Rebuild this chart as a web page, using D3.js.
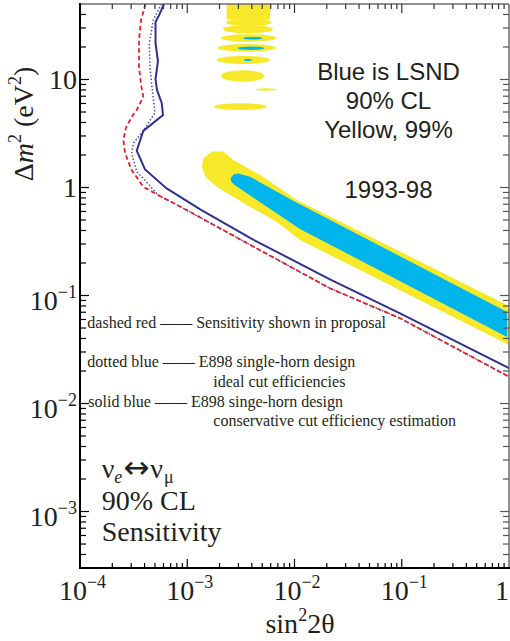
<!DOCTYPE html>
<html><head><meta charset="utf-8">
<script src="https://cdnjs.cloudflare.com/ajax/libs/d3/7.8.5/d3.min.js"></script>
<style>body{margin:0;background:#fff}</style>
</head><body>
<svg id="c" width="510" height="641"></svg>
<script>
// ---------- data ----------
const xTickValues = [1e-4, 1e-3, 1e-2, 1e-1, 1];
const xTickBase = ["10", "10", "10", "10", "1"];
const xTickExp = ["−4", "−3", "−2", "−1", ""];
const yTickValues = [1e-3, 1e-2, 1e-1, 1, 10];
const yTickBase = ["10", "10", "10", "1", "10"];
const yTickExp = ["−3", "−2", "−1", "", ""];

// E898 sensitivity curves (sin^2 2theta, dm^2)
const solidX = [6.07e-4, 5.48e-4, 5.06e-4, 5.06e-4, 5.33e-4, 5.06e-4, 5.22e-4, 5.78e-4, 5.94e-4, 3.89e-4, 3.38e-4, 4.04e-4, 6.43e-4, 1.32e-3, 3.85e-3, 2.14e-2, 9.64e-2, 1];
const solidY = [50, 39.6, 34.1, 21.8, 14.8, 10.1, 8.0, 6.06, 4.69, 3.34, 2.19, 1.47, 0.98, 0.628, 0.341, 0.141, 0.0684, 0.0213];
const dottedX = [5.75e-4, 4.82e-4, 4.43e-4, 4.49e-4, 4.69e-4, 5.0e-4, 3.89e-4, 3.14e-4, 3.03e-4, 3.38e-4, 4.04e-4, 5.33e-4, 8.75e-4, 3.85e-3, 2.14e-2, 9.64e-2, 1];
const dottedY = [50, 35.6, 21.8, 13.1, 8.52, 4.9, 3.34, 2.57, 2.07, 1.40, 1.17, 0.852, 0.66, 0.295, 0.1166, 0.0616, 0.0177];
const dashedX = [4.08e-4, 3.71e-4, 3.55e-4, 3.55e-4, 3.71e-4, 3.89e-4, 3.38e-4, 3.03e-4, 2.68e-4, 2.54e-4, 2.63e-4, 3.03e-4, 3.89e-4, 5.33e-4, 8.75e-4, 3.85e-3, 2.14e-2, 9.64e-2, 1];
const dashedY = [50, 35.6, 23.2, 13.1, 8.9, 6.93, 5.22, 4.5, 3.56, 2.75, 2.09, 1.45, 1.017, 0.852, 0.66, 0.295, 0.1166, 0.0616, 0.0177];

// LSND allowed regions: main band outlines
const yellowBandX = [1.41e-3, 1.69e-3, 2.17e-3, 2.69e-3, 4.76e-3, 1.05e-2, 1, 1, 1.125e-2, 6.83e-3, 3.58e-3, 1.88e-3, 1.47e-3, 1.37e-3];
const yellowBandY = [1.86, 2.15, 2.15, 1.80, 1.31, 0.766, 0.080, 0.0348, 0.327, 0.482, 0.689, 1.017, 1.26, 1.56];
const blueBandX = [2.54e-3, 2.70e-3, 2.99e-3, 3.85e-3, 9.42e-3, 0.96, 0.96, 1.125e-2, 4.45e-3, 2.79e-3, 2.57e-3];
const blueBandY = [1.22, 1.32, 1.35, 1.26, 0.766, 0.0705, 0.0413, 0.413, 0.766, 1.05, 1.13];

// LSND high-dm^2 islands: [x-low, x-high, dm2-high, dm2-low]
const yellowBlockX = [2.33e-3, 5.92e-3];
const yellowBlockY = [35.9, 50];
const yellowIslandX1 = [2.30e-3, 2.15e-3, 2.07e-3, 1.91e-3, 1.88e-3, 2.07e-3, 4.28e-3, 1.77e-3];
const yellowIslandX2 = [6.13e-3, 6.31e-3, 6.73e-3, 6.73e-3, 5.92e-3, 5.20e-3, 6.87e-3, 5.51e-3];
const yellowIslandYHi = [36.5, 32.0, 26.2, 21.3, 16.5, 12.2, 8.29, 6.02];
const yellowIslandYLo = [31.3, 26.8, 22.4, 18.1, 13.9, 9.55, 7.87, 5.22];
const blueIslandX1 = [3.31e-3, 2.97e-3, 3.38e-3];
const blueIslandX2 = [5.05e-3, 5.20e-3, 3.99e-3];
const blueIslandYHi = [24.8, 20.2, 15.5];
const blueIslandYLo = [23.4, 18.8, 14.8];

const lsndText = ["Blue is LSND", "90% CL", "Yellow, 99%", "", "1993-98"];
const noteText = ["dashed red —— Sensitivity shown in proposal", "dotted blue —— E898 single-horn design", "ideal cut efficiencies", "solid blue —— E898 singe-horn design", "conservative cut efficiency estimation"];

// ---------- drawing ----------
const svg = d3.select("#c");
const L = 80, R = 509, T = 4, B = 568;
const x = d3.scaleLog().domain([1e-4, 1]).range([L, R]);
const y = d3.scaleLog().domain([3e-4, 50]).range([B, T]);
const TXT = "#231f20";
const SERIF = "'Liberation Serif','Times New Roman',serif";
const SANS = "'Liberation Sans',Arial,sans-serif";

svg.append("defs").append("clipPath").attr("id", "clip")
  .append("rect").attr("x", L).attr("y", T).attr("width", R - L).attr("height", B - T);
const plot = svg.append("g").attr("clip-path", "url(#clip)");

const YEL = "#f7e829", CYAN = "#00b5ec";
const poly = d3.line().x(d => x(d[0])).y(d => y(d[1])).curve(d3.curveLinearClosed);
plot.append("path").attr("d", poly(yellowBandX.map((v, i) => [v, yellowBandY[i]]))).attr("fill", YEL);
plot.append("path").attr("d", poly(blueBandX.map((v, i) => [v, blueBandY[i]]))).attr("fill", CYAN);

plot.append("rect")
  .attr("x", x(yellowBlockX[0])).attr("width", x(yellowBlockX[1]) - x(yellowBlockX[0]))
  .attr("y", y(yellowBlockY[1]) - 5).attr("height", y(yellowBlockY[0]) - y(yellowBlockY[1]) + 5)
  .attr("fill", YEL);
function islands(x1, x2, yh, yl, color) {
  plot.selectAll(null).data(x1.map((v, i) => i)).enter().append("ellipse")
    .attr("cx", i => (x(x1[i]) + x(x2[i])) / 2)
    .attr("cy", i => (y(yh[i]) + y(yl[i])) / 2)
    .attr("rx", i => (x(x2[i]) - x(x1[i])) / 2)
    .attr("ry", i => (y(yl[i]) - y(yh[i])) / 2)
    .attr("fill", color);
}
islands(yellowIslandX1, yellowIslandX2, yellowIslandYHi, yellowIslandYLo, YEL);
islands(blueIslandX1, blueIslandX2, blueIslandYHi, blueIslandYLo, CYAN);

const line = d3.line().x(d => x(d[0])).y(d => y(d[1]));
plot.append("path").attr("d", line(dottedX.map((v, i) => [v, dottedY[i]])))
  .attr("fill", "none").attr("stroke", "#4b4fb0").attr("stroke-width", 1.5).attr("stroke-dasharray", "1.5,2");
plot.append("path").attr("d", line(dashedX.map((v, i) => [v, dashedY[i]])))
  .attr("fill", "none").attr("stroke", "#ed1c24").attr("stroke-width", 1.8).attr("stroke-dasharray", "4.5,3");
plot.append("path").attr("d", line(solidX.map((v, i) => [v, solidY[i]])))
  .attr("fill", "none").attr("stroke", "#2e3192").attr("stroke-width", 2);

// frame
svg.append("line").attr("x1", L).attr("x2", R).attr("y1", T).attr("y2", T).attr("stroke", "#6d6e71").attr("stroke-width", 1.5);
svg.append("line").attr("x1", R).attr("x2", R).attr("y1", T).attr("y2", B).attr("stroke", "#6d6e71").attr("stroke-width", 1.5);
svg.append("line").attr("x1", L).attr("x2", L).attr("y1", T - 1).attr("y2", B + 1).attr("stroke", "#000").attr("stroke-width", 2);
svg.append("line").attr("x1", L - 1).attr("x2", R + 1).attr("y1", B).attr("y2", B).attr("stroke", "#000").attr("stroke-width", 2);

// ticks
const isMajor = v => Math.abs(Math.log10(v) - Math.round(Math.log10(v))) < 1e-6;
const xt = x.ticks().filter(v => v > 1e-4 * 1.0001 && v < 0.9999);
const yt = y.ticks().filter(v => v > 3e-4 * 1.0001 && v < 49.99);
const tg = svg.append("g").attr("stroke-width", 1.2);
xt.forEach(v => {
  const len = isMajor(v) ? 9 : 5;
  tg.append("line").attr("x1", x(v)).attr("x2", x(v)).attr("y1", B).attr("y2", B - len).attr("stroke", "#000");
  tg.append("line").attr("x1", x(v)).attr("x2", x(v)).attr("y1", T).attr("y2", T + len).attr("stroke", "#333");
});
yt.forEach(v => {
  const len = isMajor(v) ? 9 : 6;
  tg.append("line").attr("y1", y(v)).attr("y2", y(v)).attr("x1", L).attr("x2", L + len).attr("stroke", "#000");
  tg.append("line").attr("y1", y(v)).attr("y2", y(v)).attr("x1", R).attr("x2", R - len).attr("stroke", "#555");
});

// tick labels
xTickValues.forEach((v, i) => {
  const t = svg.append("text").attr("x", Math.min(x(v) + 2.5, 502)).attr("y", 600)
    .attr("text-anchor", "middle").attr("font-family", SERIF).attr("font-size", 28).attr("fill", TXT);
  t.append("tspan").text(xTickBase[i]);
  if (xTickExp[i]) t.append("tspan").attr("font-size", 18).attr("dy", -12).text(xTickExp[i]);
});
yTickValues.forEach((v, i) => {
  const t = svg.append("text").attr("x", 77).attr("y", y(v) + (yTickExp[i] ? 14 : 9.5))
    .attr("text-anchor", "end").attr("font-family", SERIF).attr("font-size", 28).attr("fill", TXT);
  t.append("tspan").text(yTickBase[i]);
  if (yTickExp[i]) t.append("tspan").attr("font-size", 18).attr("dy", -12).text(yTickExp[i]);
});

// axis titles
const xt2 = svg.append("text").attr("x", 300).attr("y", 633).attr("text-anchor", "middle")
  .attr("font-family", SERIF).attr("font-size", 28).attr("fill", TXT);
xt2.append("tspan").text("sin");
xt2.append("tspan").attr("font-size", 18).attr("dy", -12).text("2");
xt2.append("tspan").attr("dy", 12).text("2θ");

const yt2 = svg.append("text").attr("transform", "translate(33,124) rotate(-90)").attr("text-anchor", "middle")
  .attr("font-family", SERIF).attr("font-size", 28).attr("fill", TXT);
yt2.append("tspan").text("Δ");
yt2.append("tspan").attr("font-style", "italic").text("m");
yt2.append("tspan").attr("font-size", 18).attr("dy", -12).text("2");
yt2.append("tspan").attr("dy", 12).text(" (eV");
yt2.append("tspan").attr("font-size", 18).attr("dy", -12).text("2");
yt2.append("tspan").attr("dy", 12).text(")");

// LSND annotation
const lsndY = [80, 109, 138, 0, 198];
lsndText.forEach((s, i) => {
  if (!s) return;
  svg.append("text").attr("x", 388.5).attr("y", lsndY[i]).attr("text-anchor", "middle")
    .attr("font-family", SANS).attr("font-size", 24).attr("fill", TXT).text(s);
});

// notes
const noteX = [87.3, 87.3, 213.3, 88.3, 213.3];
const noteY = [328, 367, 387, 407, 426];
noteText.forEach((s, i) => {
  svg.append("text").attr("x", noteX[i]).attr("y", noteY[i])
    .attr("font-family", SERIF).attr("font-size", 16).attr("fill", TXT).text(s);
});

// nu label
const nu = svg.append("text").attr("x", 101.7).attr("y", 478)
  .attr("font-family", SERIF).attr("font-size", 28).attr("fill", TXT);
nu.append("tspan").text("ν");
nu.append("tspan").attr("font-size", 18).attr("font-style", "italic").attr("dy", 5).text("e");
nu.append("tspan").attr("dy", -5).attr("font-family", "'DejaVu Sans',sans-serif").attr("font-size", 31).attr("dx", 1.5).text("↔");
nu.append("tspan").attr("dx", 0.5).text("ν");
nu.append("tspan").attr("font-size", 18).attr("dy", 5).attr("dx", 1).text("μ");
svg.append("text").attr("x", 101.7).attr("y", 510).attr("font-family", SERIF).attr("font-size", 28).attr("fill", TXT).text("90% CL");
svg.append("text").attr("x", 101.7).attr("y", 541).attr("font-family", SERIF).attr("font-size", 28).attr("fill", TXT).text("Sensitivity");
</script>
</body></html>
